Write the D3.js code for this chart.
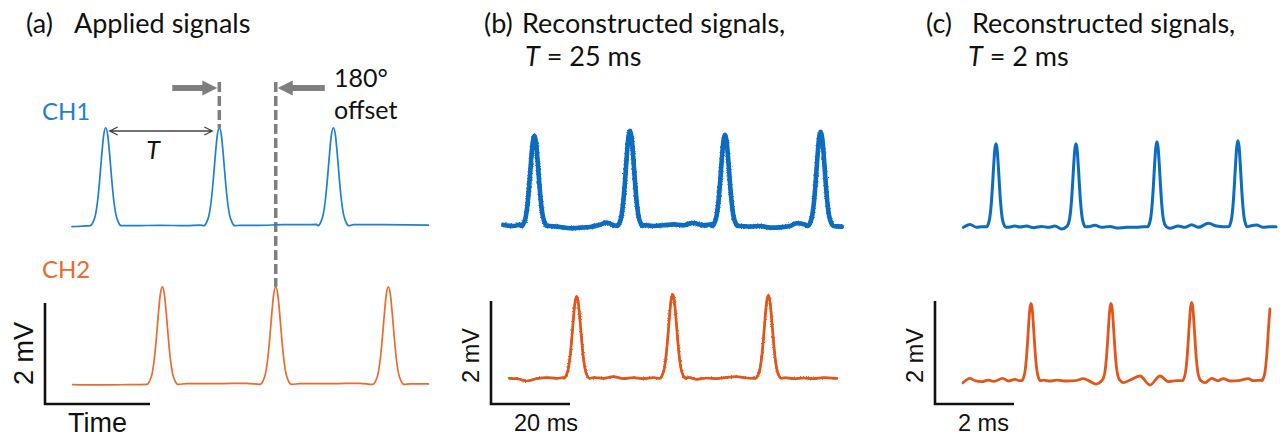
<!DOCTYPE html>
<html>
<head>
<meta charset="utf-8">
<script src="https://cdn.jsdelivr.net/npm/d3@7"></script>
<style>
  html, body { margin: 0; padding: 0; background: #fff; }
  svg { display: block; }
  .title { font-family: Lato, "Open Sans", sans-serif; fill: #111; }
  .bar-label { font-family: "Liberation Sans", Arial, sans-serif; fill: #111; }
</style>
</head>
<body>
<svg id="fig" width="1280" height="438"></svg>
<script>
// ---- pulse template: offset (in pulse widths) and relative height ----
const pulseOffsets = [-3.2, -2.6, -2.1, -1.6, -1.2, -0.8, -0.4, 0, 0.4, 0.8, 1.2, 1.6, 2.1, 2.6, 3.2];
const pulseShape   = [0, 0.035, 0.11, 0.28, 0.49, 0.73, 0.93, 1, 0.93, 0.73, 0.49, 0.28, 0.11, 0.035, 0];

// ---- (a) applied signals, time in periods T, amplitude in mV ----
const aWidth = 0.043;
const aCh1Peaks   = [0.297, 1.298, 2.303];
const aCh1Heights = [1.94, 1.94, 1.94];
const aCh1Base = [[0, -0.02], [0.1, -0.007], [0.54, 0], [0.775, 0.007], [1.01, 0], [1.128, 0.013],
                  [1.48, 0.007], [1.656, 0.007], [1.862, 0.02], [2.067, 0.02], [2.156, 0.026],
                  [2.479, 0.02], [2.743, 0.02], [3.14, 0.013]];
const aCh2Peaks   = [0.796, 1.795, 2.787];
const aCh2Heights = [1.93, 1.93, 1.93];
const aCh2Base = [[0.006, -0.007], [0.247, -0.013], [0.482, -0.007], [1.01, 0.013], [1.274, 0.013],
                  [1.539, 0.02], [2.009, 0.013], [2.303, 0.013], [2.537, 0.02], [2.978, 0.007], [3.14, 0.007]];
const aTimeBar = 0.925;

// ---- (b) reconstructed, T = 25 ms; time in ms ----
const bWidth = 1.02;
const bCh1Peaks   = [8.19, 32.4, 56.46, 80.67];
const bCh1Heights = [1.75, 1.85, 1.77, 1.83];
const bCh1Base = [[0.34, 0.019], [2.87, 0], [4.56, 0.026], [12.15, 0], [14.68, -0.019], [17.22, -0.045],
                  [19.75, -0.032], [22.28, -0.019], [24.81, 0.026], [26.5, 0.065], [28.19, 0.019],
                  [35.78, 0.019], [38.31, 0], [40.84, 0.013], [43.38, 0.032], [45.91, 0.013],
                  [48.44, 0.058], [50.97, 0.013], [53.08, 0.032], [60.25, 0], [62.78, -0.013],
                  [65.32, 0], [67.85, -0.032], [70.38, -0.026], [72.91, 0], [74.6, 0.052],
                  [76.71, 0.026], [83.88, 0], [85.99, -0.013]];
const bCh2Peaks   = [18.9, 43.2, 67.43];
const bCh2Heights = [1.59, 1.63, 1.61];
const bCh2Base = [[1.86, 0], [3.71, -0.006], [6.24, -0.052], [8.78, -0.006], [11.31, 0.013], [13.84, 0],
                  [15.53, 0.013], [23.12, 0.013], [25.65, 0], [28.19, 0.032], [30.72, -0.006],
                  [33.25, 0.013], [35.78, -0.006], [38.31, 0.013], [39.83, 0], [47.17, 0.019],
                  [49.28, -0.019], [51.81, 0.006], [54.35, -0.006], [56.88, 0.019], [59.41, 0.032],
                  [61.94, 0.006], [64.05, 0], [71.65, 0.013], [73.76, -0.006], [76.29, 0.006],
                  [78.82, -0.006], [81.35, 0.013], [84.73, 0]];
const bTimeBar = 20;

// ---- (c) reconstructed, T = 2 ms; time in ms ----
const cWidth = 0.074;
const cCh1Peaks   = [0.835, 2.86, 4.91, 6.96];
const cCh1Heights = [1.61, 1.61, 1.65, 1.67];
const cCh1Base = [[0.01, -0.013], [0.177, 0.045], [0.346, -0.013], [0.473, 0], [1.122, -0.013],
                  [1.316, 0.013], [1.443, -0.006], [1.612, 0.013], [1.781, -0.019], [1.992, 0.006],
                  [2.16, -0.013], [2.329, 0.013], [2.498, -0.045], [3.173, 0], [3.342, 0.026],
                  [3.511, -0.013], [3.722, 0.006], [3.89, -0.026], [4.143, -0.013], [4.397, -0.013],
                  [4.565, 0], [5.24, -0.032], [5.451, 0.013], [5.62, -0.013], [5.789, 0.039],
                  [5.958, -0.013], [6.211, 0.065], [6.422, 0.013], [6.591, 0], [7.266, 0.013],
                  [7.435, 0.032], [7.603, -0.013], [7.772, 0], [7.924, 0]];
const cCh2Peaks   = [1.722, 3.747, 5.789, 7.80];
const cCh2Heights = [1.50, 1.50, 1.52, 1.50];
const cCh2End = 7.775;
const cCh2Base = [[0, -0.039], [0.177, 0.045], [0.304, 0], [0.473, -0.019], [0.642, 0.013],
                  [0.785, -0.013], [1.004, 0.045], [1.148, -0.006], [1.316, 0.026], [1.426, 0],
                  [2.034, 0.013], [2.203, -0.006], [2.371, 0.013], [2.624, -0.006], [2.835, 0],
                  [3.046, 0.039], [3.215, -0.013], [3.367, -0.065], [4.059, -0.039], [4.228, 0.013],
                  [4.481, 0.091], [4.734, -0.084], [4.987, 0.091], [5.198, -0.019], [5.409, 0],
                  [5.494, 0], [6.127, -0.039], [6.296, 0.045], [6.448, 0], [6.591, 0.039],
                  [6.759, -0.006], [6.97, 0], [7.224, 0.039], [7.35, 0], [7.561, 0.013]];
const cTimeBar = 2;

const mvBar = 2;

// ---- colours ----
const blueA = "#1f7fd2", orangeA = "#ec6a2c";
const blueB = "#0b6cc2", orangeB = "#e2561c";

// merge baseline knots with the pulse template placed at each peak
function buildTrace(peaks, heights, base, width, tEnd) {
  const half = pulseOffsets[pulseOffsets.length - 1] * width;
  const pts = base.filter(([t]) => peaks.every(p => Math.abs(t - p) > half))
                  .map(([t, v]) => ({ t, v }));
  peaks.forEach((p, i) => {
    pulseOffsets.forEach((o, k) => pts.push({ t: p + o * width, v: heights[i] * pulseShape[k] }));
  });
  pts.sort((a, b) => a.t - b.t);
  return tEnd == null ? pts : pts.filter(d => d.t <= tEnd);
}

const svg = d3.select("#fig");
const defs = svg.append("defs");

// grainy edge for the 25 ms reconstruction
function roughFilter(id, scale, freq) {
  const f = defs.append("filter").attr("id", id)
    .attr("filterUnits", "userSpaceOnUse")
    .attr("x", 470).attr("y", 90).attr("width", 420).attr("height", 320);
  f.append("feTurbulence").attr("type", "fractalNoise").attr("baseFrequency", freq)
    .attr("numOctaves", 2).attr("seed", 7).attr("result", "noise");
  f.append("feDisplacementMap").attr("in", "SourceGraphic").attr("in2", "noise")
    .attr("scale", scale).attr("xChannelSelector", "R").attr("yChannelSelector", "G");
}
roughFilter("roughB1", 5, 0.8);
roughFilter("roughB2", 3, 0.8);

function drawTrace(g, data, x, y, color, width, filter) {
  const line = d3.line().x(d => x(d.t)).y(d => y(d.v)).curve(d3.curveMonotoneX);
  const p = g.append("path").datum(data)
    .attr("d", line)
    .attr("fill", "none")
    .attr("stroke", color)
    .attr("stroke-width", width)
    .attr("stroke-linejoin", "round")
    .attr("stroke-linecap", "round");
  if (filter) p.attr("filter", `url(#${filter})`);
}

function mvScale(baseY, pxPerMv) {
  return d3.scaleLinear().domain([0, 1]).range([baseY, baseY - pxPerMv]);
}

// L-shaped scale bar with labels
function scaleBar(g, x0, xLen, yScaleBar, timeLabel, fontSize, mvLabelX) {
  const y0 = yScaleBar(0), y1 = yScaleBar(mvBar);
  g.append("path")
    .attr("d", `M${x0},${y1}V${y0}H${x0 + xLen}`)
    .attr("fill", "none").attr("stroke", "#111").attr("stroke-width", 2.6);
  g.append("text").attr("class", "bar-label")
    .attr("transform", `translate(${mvLabelX},${(y0 + y1) / 2 + 3}) rotate(-90)`)
    .attr("text-anchor", "middle")
    .style("font-size", fontSize + "px")
    .text(`${mvBar} mV`);
  g.append("text").attr("class", "bar-label")
    .attr("x", x0 + 23).attr("y", 431)
    .style("font-size", fontSize + "px")
    .text(timeLabel);
}

function title(x1, x2, y, tag, text) {
  svg.append("text").attr("class", "title").attr("x", x1).attr("y", y)
    .style("font-size", "27px").text(tag);
  svg.append("text").attr("class", "title").attr("x", x2).attr("y", y)
    .style("font-size", "27px").text(text);
}

// ================= (a) =================
const gA = svg.append("g");
const xA = d3.scaleLinear().domain([0, 1]).range([72, 72 + 113.5]);
const yA1 = mvScale(225.7, 50.5);
const yA2 = mvScale(384.3, 50.5);
const yABar = mvScale(404, 50.5);

title(26, 74, 33, "(a)", "Applied signals");
gA.append("text").attr("class", "title").attr("x", 42).attr("y", 120)
  .style("font-size", "24px").style("fill", blueA).text("CH1");
gA.append("text").attr("class", "title").attr("x", 42).attr("y", 278)
  .style("font-size", "24px").style("fill", orangeA).text("CH2");

// reference lines through the second pulses
const dashTop = 82;
const xRef1 = xA(aCh1Peaks[1]), xRef2 = xA(aCh2Peaks[1]);
gA.append("line").attr("x1", xRef1).attr("x2", xRef1)
  .attr("y1", dashTop).attr("y2", yA1(aCh1Heights[1]))
  .attr("stroke", "#7f7f7f").attr("stroke-width", 3.5).attr("stroke-dasharray", "10,4");
gA.append("line").attr("x1", xRef2).attr("x2", xRef2)
  .attr("y1", dashTop).attr("y2", yA2(aCh2Heights[1]))
  .attr("stroke", "#7f7f7f").attr("stroke-width", 3.5).attr("stroke-dasharray", "10,4");

drawTrace(gA, buildTrace(aCh1Peaks, aCh1Heights, aCh1Base, aWidth), xA, yA1, blueA, 1.7);
drawTrace(gA, buildTrace(aCh2Peaks, aCh2Heights, aCh2Base, aWidth), xA, yA2, orangeA, 1.7);

// block arrows pointing at the reference lines
function blockArrow(tail, tip, y) {
  const dir = Math.sign(tip - tail), hl = 15, hh = 7.5, sh = 3;
  const hb = tip - dir * hl;
  const pts = [[tail, y - sh], [hb, y - sh], [hb, y - hh], [tip, y], [hb, y + hh], [hb, y + sh], [tail, y + sh]];
  gA.append("path").attr("d", "M" + pts.map(p => p.join(",")).join("L") + "Z").attr("fill", "#7f7f7f");
}
blockArrow(xRef1 - 47, xRef1 - 2, 88);
blockArrow(xRef2 + 49, xRef2 + 2, 88);

gA.append("text").attr("class", "title").attr("x", 334).attr("y", 87)
  .style("font-size", "25px").text("180°");
gA.append("text").attr("class", "title").attr("x", 334).attr("y", 119)
  .style("font-size", "25px").text("offset");

// period marker between first two CH1 pulses
const tY = 131;
const tx1 = xA(aCh1Peaks[0]) + 4, tx2 = xA(aCh1Peaks[1]) - 7;
gA.append("path")
  .attr("d", `M${tx1},${tY}H${tx2}M${tx1 + 8},${tY - 4}L${tx1},${tY}L${tx1 + 8},${tY + 4}M${tx2 - 8},${tY - 4}L${tx2},${tY}L${tx2 - 8},${tY + 4}`)
  .attr("fill", "none").attr("stroke", "#444").attr("stroke-width", 1.3);
gA.append("text").attr("class", "title").attr("x", (tx1 + tx2) / 2 - 8).attr("y", 159)
  .attr("text-anchor", "middle").style("font-size", "25px").style("font-style", "italic").text("T");

// scale bar
{
  const x0 = xA(0) - 27, xLen = xA(aTimeBar) - xA(0);
  const y0 = yABar(0), y1 = yABar(mvBar);
  gA.append("path").attr("d", `M${x0},${y1}V${y0}H${x0 + xLen}`)
    .attr("fill", "none").attr("stroke", "#111").attr("stroke-width", 2.6);
  gA.append("text").attr("class", "bar-label")
    .attr("transform", `translate(33,${(y0 + y1) / 2}) rotate(-90)`)
    .attr("text-anchor", "middle").style("font-size", "27px").text(`${mvBar} mV`);
  gA.append("text").attr("class", "bar-label").attr("x", x0 + 23).attr("y", 432)
    .style("font-size", "27px").text("Time");
}

// ================= (b) =================
const gB = svg.append("g");
const xB = d3.scaleLinear().domain([0, 20]).range([502, 581]);
const yB1 = mvScale(226, 51.5);
const yB2 = mvScale(378.3, 51.5);
const yBBar = mvScale(404, 51.5);

title(484, 522, 33, "(b)", "Reconstructed signals,");
{
  const t = svg.append("text").attr("class", "title").attr("x", 525).attr("y", 66).style("font-size", "27px");
  t.append("tspan").style("font-style", "italic").text("T");
  t.append("tspan").text(" = 25 ms");
}
const bTrace1 = buildTrace(bCh1Peaks, bCh1Heights, bCh1Base, bWidth);
const bTrace2 = buildTrace(bCh2Peaks, bCh2Heights, bCh2Base, bWidth);
// solid core plus a roughened copy for the noisy edge
drawTrace(gB, bTrace1, xB, yB1, blueB, 4.6);
drawTrace(gB, bTrace1, xB, yB1, blueB, 3.4, "roughB1");
drawTrace(gB, bTrace2, xB, yB2, orangeB, 2.7);
drawTrace(gB, bTrace2, xB, yB2, orangeB, 2, "roughB2");
scaleBar(gB, xB(0) - 11, xB(bTimeBar) - xB(0), yBBar, `${bTimeBar} ms`, 23.5, 479);

// ================= (c) =================
const gC = svg.append("g");
const xC = d3.scaleLinear().domain([0, 2]).range([963, 1042]);
const yC1 = mvScale(226.7, 51.5);
const yC2 = mvScale(380.7, 51.5);
const yCBar = mvScale(404, 51.5);

title(926, 972, 33, "(c)", "Reconstructed signals,");
{
  const t = svg.append("text").attr("class", "title").attr("x", 968).attr("y", 66).style("font-size", "27px");
  t.append("tspan").style("font-style", "italic").text("T");
  t.append("tspan").text(" = 2 ms");
}
drawTrace(gC, buildTrace(cCh1Peaks, cCh1Heights, cCh1Base, cWidth), xC, yC1, blueB, 3);
drawTrace(gC, buildTrace(cCh2Peaks, cCh2Heights, cCh2Base, cWidth, cCh2End), xC, yC2, orangeB, 2.8);
scaleBar(gC, xC(0) - 28, xC(cTimeBar) - xC(0), yCBar, `${cTimeBar} ms`, 23.5, 923);
</script>
</body>
</html>
